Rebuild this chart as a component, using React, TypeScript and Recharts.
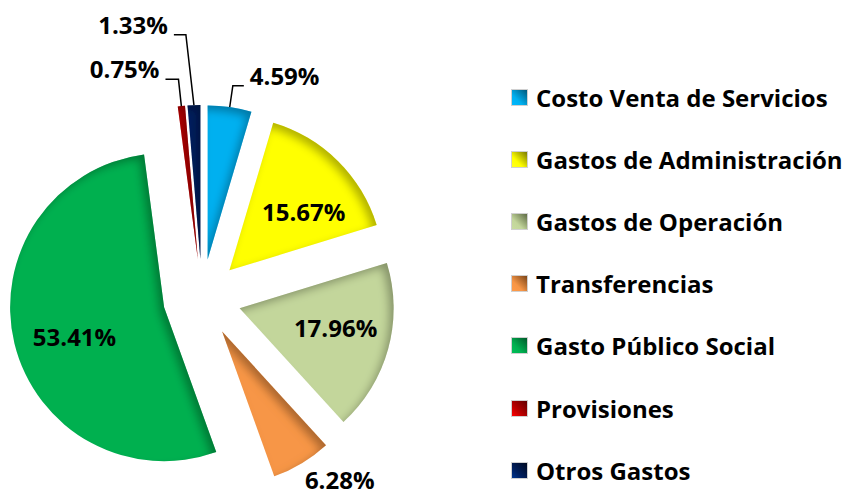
import { PieChart, Pie, Cell, Sector, Legend } from "recharts"

// Distribución del gasto (%)
const categories = [
  "Costo Venta de Servicios",
  "Gastos de Administración",
  "Gastos de Operación",
  "Transferencias",
  "Gasto Público Social",
  "Provisiones",
  "Otros Gastos",
]
const shares = [4.59, 15.67, 17.96, 6.28, 53.41, 0.75, 1.33]
const valueLabels = ["4.59%", "15.67%", "17.96%", "6.28%", "53.41%", "0.75%", "1.33%"]

const colors = ["#00B0F0", "#FFFF00", "#C3D69B", "#F79646", "#00B050", "#C00000", "#002060"]
const darkColors = ["#00587A", "#7A7A00", "#5E6B45", "#7A4418", "#00592A", "#600000", "#000A20"]
const lightColors = ["#00B8FF", "#FFFF20", "#C8DCA0", "#FF9A48", "#00C058", "#FF0000", "#003590"]

const data = categories.map((name, i) => ({ name, value: shares[i], label: valueLabels[i] }))

const RAD = Math.PI / 180
const EXPLODE = 39
const FONT = "'Open Sans', Lato, sans-serif"

// label placement: inside (radius factor, angle shift) or outside with leader line
const labelLayout: any[] = [
  { kind: "line", elbow: 1.14, shift: 0, dir: 1, len: 11 },
  { kind: "inside", r: 0.613, shift: -7.2 },
  { kind: "inside", r: 0.636, shift: 3.7 },
  { kind: "free", r: 1.232, shift: 7.2 },
  { kind: "inside", r: 0.612, shift: 4.5 },
  { kind: "line", elbow: 1.175, shift: 0, dir: -1, len: 13 },
  { kind: "line", elbow: 1.46, shift: 1.3, dir: -1, len: 12 },
]

const polar = (cx: number, cy: number, r: number, angle: number) => ({
  x: cx + r * Math.cos(-angle * RAD),
  y: cy + r * Math.sin(-angle * RAD),
})

const explodedCenter = (cx: number, cy: number, midAngle: number) => polar(cx, cy, EXPLODE, midAngle)

const ExplodedSector = (props: any) => {
  const { cx, cy, midAngle, innerRadius, outerRadius, startAngle, endAngle, fill } = props
  const c = explodedCenter(cx, cy, midAngle)
  return (
    <Sector
      cx={c.x}
      cy={c.y}
      innerRadius={innerRadius}
      outerRadius={outerRadius}
      startAngle={startAngle}
      endAngle={endAngle}
      fill={fill}
      stroke="none"
      filter="url(#innerShade)"
    />
  )
}

const renderLabel = (props: any) => {
  const { cx, cy, midAngle, outerRadius, index } = props
  const c = explodedCenter(cx, cy, midAngle)
  const lay = labelLayout[index]
  const text = valueLabels[index]
  const textStyle = { fontFamily: FONT, fontWeight: 700, fontSize: 24, fill: "#000" }
  if (lay.kind === "inside" || lay.kind === "free") {
    const p = polar(c.x, c.y, outerRadius * lay.r, midAngle + lay.shift)
    return (
      <text key={index} x={p.x} y={p.y + 9} textAnchor="middle" style={textStyle}>
        {text}
      </text>
    )
  }
  const start = polar(c.x, c.y, outerRadius, midAngle)
  const elbow = polar(c.x, c.y, outerRadius * lay.elbow, midAngle + lay.shift)
  const endX = elbow.x + lay.dir * lay.len
  return (
    <g key={index}>
      <polyline
        points={`${start.x},${start.y} ${elbow.x},${elbow.y} ${endX},${elbow.y}`}
        fill="none"
        stroke="#000"
        strokeWidth={1.5}
      />
      <text
        x={endX + lay.dir * 6}
        y={elbow.y - 1}
        textAnchor={lay.dir > 0 ? "start" : "end"}
        style={textStyle}
      >
        {text}
      </text>
    </g>
  )
}

const renderLegend = () => (
  <div style={{ fontFamily: FONT, fontWeight: 700, fontSize: 24, color: "#000" }}>
    {categories.map((name, i) => (
      <div key={name} style={{ height: 62.2, display: "flex", alignItems: "center", whiteSpace: "nowrap" }}>
        <span
          style={{
            display: "inline-block",
            width: 15,
            height: 15,
            marginRight: 8,
            border: "1px solid #d0d0d0",
            background: `linear-gradient(45deg, ${lightColors[i]} 0%, ${colors[i]} 35%, ${darkColors[i]} 100%)`,
          }}
        />
        <span>{name}</span>
      </div>
    ))}
  </div>
)

export default function App() {
  return (
    <div style={{ position: "absolute", left: 0, top: 0, background: "#fff" }}>
      <PieChart width={843} height={498} margin={{ top: 0, right: 0, bottom: 0, left: 0 }}>
        <defs>
          <filter id="innerShade" x="-20%" y="-20%" width="140%" height="140%">
            <feOffset dx="-5" dy="5" />
            <feGaussianBlur stdDeviation="4" result="offsetBlur" />
            <feComposite operator="out" in="SourceGraphic" in2="offsetBlur" result="inverse" />
            <feFlood floodColor="#000" floodOpacity="0.55" result="color" />
            <feComposite operator="in" in="color" in2="inverse" result="shadow" />
            <feComposite operator="over" in="shadow" in2="SourceGraphic" />
          </filter>
        </defs>
        <Pie
          data={data}
          dataKey="value"
          nameKey="name"
          cx={202}
          cy={298}
          outerRadius={154}
          startAngle={90}
          endAngle={-270}
          stroke="none"
          shape={ExplodedSector}
          label={renderLabel}
          labelLine={false}
          isAnimationActive={false}
        >
          {data.map((d, i) => (
            <Cell key={d.name} fill={colors[i]} />
          ))}
        </Pie>
        <Legend
          layout="vertical"
          verticalAlign="top"
          align="right"
          content={renderLegend}
          wrapperStyle={{ left: 511, top: 66, width: 332 }}
        />
      </PieChart>
    </div>
  )
}
